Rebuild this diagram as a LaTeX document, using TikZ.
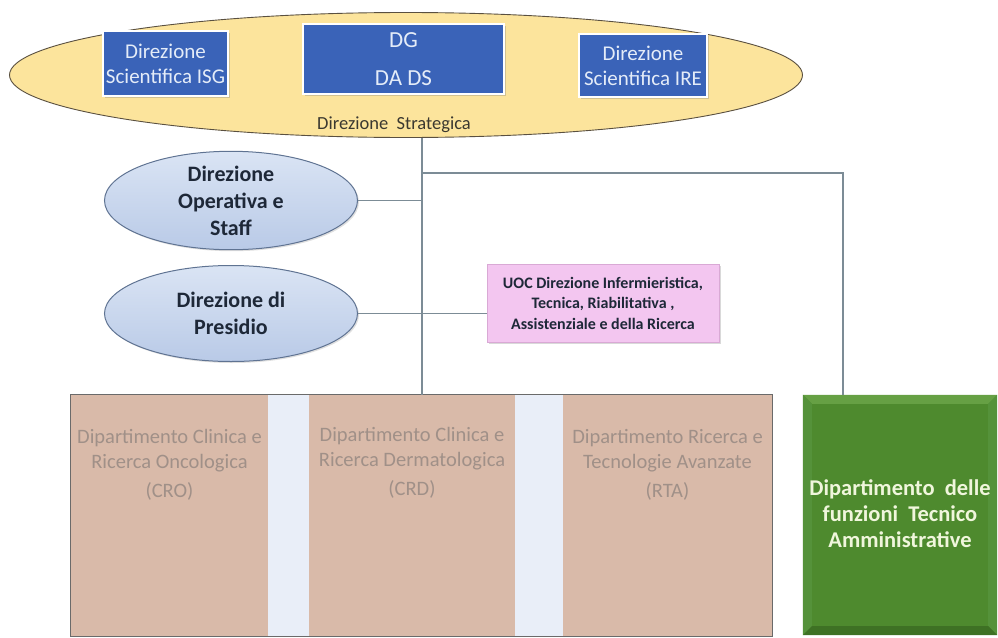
\documentclass[tikz,border=0pt]{standalone}
\usepackage{fontspec}
\setmainfont{Carlito}
\usetikzlibrary{shapes.geometric,shadows,calc}

\definecolor{stratfill}{HTML}{FCE49C}
\definecolor{stratline}{HTML}{5A5040}
\definecolor{strattext}{HTML}{3A3830}
\definecolor{dirblue}{HTML}{3A63B8}
\definecolor{dirtext}{HTML}{E4ECF8}
\definecolor{opstop}{HTML}{DAE4F4}
\definecolor{opsbot}{HTML}{B9CAE7}
\definecolor{opsline}{HTML}{5F7392}
\definecolor{inktext}{HTML}{1E2838}
\definecolor{uocfill}{HTML}{F3C6F0}
\definecolor{uocedge}{HTML}{D9A9D5}
\definecolor{deptfill}{HTML}{D9BAA9}
\definecolor{depttext}{HTML}{A09088}
\definecolor{gapfill}{HTML}{E9EEF8}
\definecolor{frameline}{HTML}{6A6A6A}
\definecolor{tecnface}{HTML}{4E8A2E}
\definecolor{tecnlight}{HTML}{66A044}
\definecolor{tecnside}{HTML}{55923A}
\definecolor{tecndark}{HTML}{3E7124}
\definecolor{tecntext}{HTML}{F0F6DC}
\definecolor{wire}{HTML}{7C8C96}

\tikzset{
  dirbox/.style={rectangle, draw=white, line width=2.5pt, fill=dirblue, text=dirtext,
    drop shadow={opacity=0.35, shadow xshift=1.5pt, shadow yshift=-1.5pt},
    align=center, inner sep=0pt},
  opsell/.style={ellipse, draw=opsline, line width=1pt, top color=opstop, bottom color=opsbot,
    minimum width=253pt, minimum height=96pt, inner sep=0pt, align=center,
    text=inktext, font=\bfseries\fontsize{22}{27}\selectfont,
    drop shadow={opacity=0.25, shadow xshift=1.5pt, shadow yshift=-1.5pt}},
  deptbox/.style={rectangle, fill=deptfill, inner sep=0pt, minimum height=241pt},
  depttxt/.style={text=depttext, align=center, font=\fontsize{20.5}{25}\selectfont, inner sep=0pt},
  wire/.style={draw=wire, line width=1.2pt}
}

\begin{document}
\begin{tikzpicture}[x=1pt,y=-1pt]
\useasboundingbox (0,0) rectangle (998,637);

% strategic board
\node[ellipse, draw=stratline, line width=0.9pt, fill=stratfill,
      minimum width=793pt, minimum height=125pt, inner sep=0pt] (strat) at (406,75) {};
\node[dirbox, minimum width=125pt, minimum height=65pt,
      font=\fontsize{21}{25}\selectfont] (isg) at (165.5,63.5) {Direzione\\Scientifica ISG};
\node[dirbox, minimum width=201pt, minimum height=70pt,
      font=\fontsize{23}{38}\selectfont] (dg) at (403.5,59) {DG\\DA DS};
\node[dirbox, minimum width=128pt, minimum height=63pt,
      font=\fontsize{21}{25}\selectfont] (ire) at (643,65.5) {Direzione\\Scientifica IRE};
\node[text=strattext, font=\fontsize{18.5}{20}\selectfont, inner sep=0pt] (stratlbl) at (394,125)
      {Direzione\ \ Strategica};

% staff ellipses
\node[opsell] (ops) at (231,200.5) {Direzione\\Operativa e\\Staff};
\node[opsell] (pres) at (231,313.5) {Direzione di\\Presidio};

% nursing direction
\node[rectangle, draw=uocedge, line width=1pt, fill=uocfill, minimum width=232pt, minimum height=78pt,
      inner sep=0pt, align=center, text=inktext, font=\bfseries\fontsize{16}{20.5}\selectfont,
      drop shadow={opacity=0.3, shadow xshift=1.5pt, shadow yshift=-1.5pt}] (uoc) at (603,303)
      {UOC Direzione Infermieristica,\\Tecnica, Riabilitativa ,\\Assistenziale e della Ricerca};

% clinical departments
\node[rectangle, fill=gapfill, minimum width=701pt, minimum height=241pt, inner sep=0pt] (frame) at (421.5,515.5) {};
\node[deptbox, minimum width=197pt] (cro) at (169.5,515.5) {};
\node[deptbox, minimum width=206pt] (crd) at (412,515.5) {};
\node[deptbox, minimum width=209pt] (rta) at (667.5,515.5) {};
\draw[frameline, line width=1pt] (frame.north west) rectangle (frame.south east);
\node[depttxt] (crot) at (169.5,465) {Dipartimento Clinica e\\Ricerca Oncologica\\[4pt](CRO)};
\node[depttxt] (crdt) at (412,463) {Dipartimento Clinica e\\Ricerca Dermatologica\\[4pt](CRD)};
\node[depttxt] (rtat) at (667.5,465) {Dipartimento Ricerca e\\Tecnologie Avanzate\\[4pt](RTA)};

% technical-administrative department, bevelled
\node[rectangle, fill=tecnface, minimum width=194pt, minimum height=240pt, inner sep=0pt] (tecn) at (900,515) {};
\fill[tecnlight] (tecn.north west) -- (tecn.north east) -- ($(tecn.north east)+(-9,9)$) -- ($(tecn.north west)+(9,9)$) -- cycle;
\fill[tecnside] (tecn.north west) -- ($(tecn.north west)+(9,9)$) -- ($(tecn.south west)+(9,-9)$) -- (tecn.south west) -- cycle;
\fill[tecnside] (tecn.north east) -- ($(tecn.north east)+(-9,9)$) -- ($(tecn.south east)+(-9,-9)$) -- (tecn.south east) -- cycle;
\fill[tecndark] (tecn.south west) -- ($(tecn.south west)+(9,-9)$) -- ($(tecn.south east)+(-9,-9)$) -- (tecn.south east) -- cycle;
\node[text=tecntext, align=center, inner sep=0pt, font=\bfseries\fontsize{22.5}{26}\selectfont] (tecnt) at (900,514)
      {Dipartimento\ \ delle\\funzioni\ \ Tecnico\\Amministrative};

% connectors
\coordinate (jl) at (422,173);
\coordinate (jr) at (843,173);
\draw[wire] (strat.south -| jl) -- (frame.north -| jl);
\draw[wire] (jl) -- (jr) -- (jr |- tecn.north);
\draw[wire] (ops.east) -- (ops.east -| jl);
\draw[wire] (pres.east) -- (pres.east -| uoc.west);
\end{tikzpicture}
\end{document}
